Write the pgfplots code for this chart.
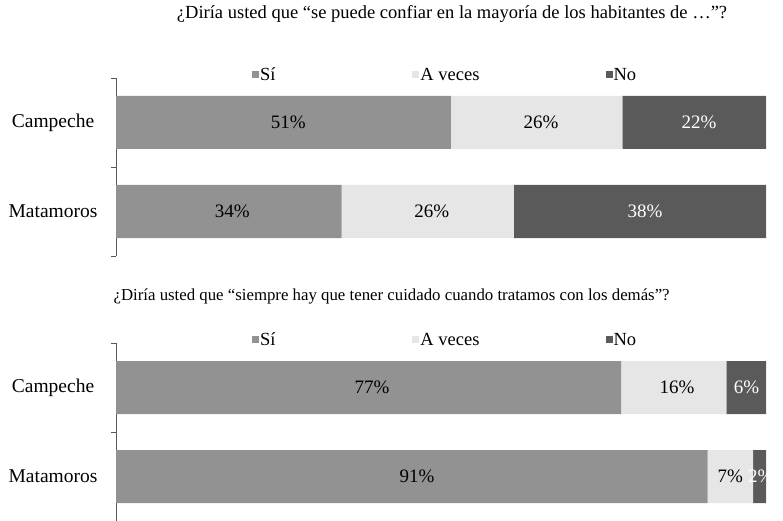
\documentclass[border=0pt]{standalone}
\usepackage{pgfplots}
\pgfplotsset{compat=1.18}
\usepackage{fontspec}
\setmainfont{Liberation Serif}
\definecolor{si}{HTML}{929292}
\definecolor{av}{HTML}{E6E6E6}
\definecolor{no}{HTML}{5A5A5A}
\definecolor{axc}{HTML}{595959}

\pgfplotsset{
 base/.style={
  scale only axis, width=650pt, height=178pt,
  xmin=0, xmax=100, ymin=-0.5, ymax=1.5,
  font=\fontsize{18.5}{22}\selectfont,
 },
 bars/.style={base, xbar stacked, bar width=53pt,
  axis x line=none, axis y line*=left, axis line style={axc, -},
  ytick={0,1}, yticklabels={Matamoros,Campeche}, major tick length=0pt,
  minor ytick={-0.5,0.5,1.5}, minor tick length=5pt, tick align=outside,
  minor tick style={axc},
  yticklabel style={anchor=center, xshift=-63pt, font=\fontsize{19.5}{22}\selectfont},
  legend columns=3,
  legend style={draw=none, fill=none, at={(rel axis cs:0.209,1.017)}, anchor=west,
    inner sep=0pt, nodes={inner sep=1pt},
    /tikz/column 2/.style={column sep=136pt},
    /tikz/column 4/.style={column sep=125pt}},
  legend image code/.code={\fill[##1] (0pt,-3pt) rectangle (7pt,4pt);},
 },
 labels/.style={base, hide axis, nodes near coords, point meta=explicit symbolic,
  every node near coord/.style={anchor=center, font=\fontsize{19}{22}\selectfont}},
}

\begin{document}
\begin{tikzpicture}
\path[use as bounding box] (0pt,0pt) rectangle (783pt,520pt);

% ---------- top chart ----------
\begin{axis}[bars, at={(116pt,264pt)}, anchor=south west,
  title={¿Diría usted que “se puede confiar en la mayoría de los habitantes de …”?},
  title style={at={(rel axis cs:0.517,1.326)}, anchor=center, font=\fontsize{18.5}{22}\selectfont}]
\addplot[fill=si, draw=none] coordinates {(34.7,0) (51.5,1)};
\addplot[fill=av, draw=none] coordinates {(26.5,0) (26.4,1)};
\addplot[fill=no, draw=none] coordinates {(38.8,0) (22.1,1)};
\legend{Sí, A veces, No}
\end{axis}
\begin{axis}[labels, at={(116pt,264pt)}, anchor=south west]
\addplot[draw=none, mark=none, nodes near coords style={text=black}]
  coordinates {(17.9,0) [34\%] (26.5,1) [51\%]};
\addplot[draw=none, mark=none, nodes near coords style={text=black}]
  coordinates {(48.6,0) [26\%] (65.4,1) [26\%]};
\addplot[draw=none, mark=none, nodes near coords style={text=white}]
  coordinates {(81.4,0) [38\%] (89.7,1) [22\%]};
\end{axis}

% ---------- bottom chart ----------
\begin{axis}[bars, at={(116pt,-1pt)}, anchor=south west,
  title={¿Diría usted que “siempre hay que tener cuidado cuando tratamos con los demás”?},
  title style={at={(rel axis cs:0.424,1.225)}, anchor=center, font=\fontsize{16.8}{20}\selectfont}]
\addplot[fill=si, draw=none] coordinates {(91.0,0) (77.7,1)};
\addplot[fill=av, draw=none] coordinates {(7.0,0) (16.2,1)};
\addplot[fill=no, draw=none] coordinates {(2.0,0) (6.1,1)};
\legend{Sí, A veces, No}
\end{axis}
\begin{axis}[labels, at={(116pt,-1pt)}, anchor=south west]
\addplot[draw=none, mark=none, nodes near coords style={text=black}]
  coordinates {(46.3,0) [91\%] (39.4,1) [77\%]};
\addplot[draw=none, mark=none, nodes near coords style={text=black}]
  coordinates {(94.5,0) [7\%] (86.3,1) [16\%]};
\addplot[draw=none, mark=none, nodes near coords style={text=white}]
  coordinates {(99.2,0) [2\%] (97.0,1) [6\%]};
\end{axis}
\end{tikzpicture}
\end{document}
